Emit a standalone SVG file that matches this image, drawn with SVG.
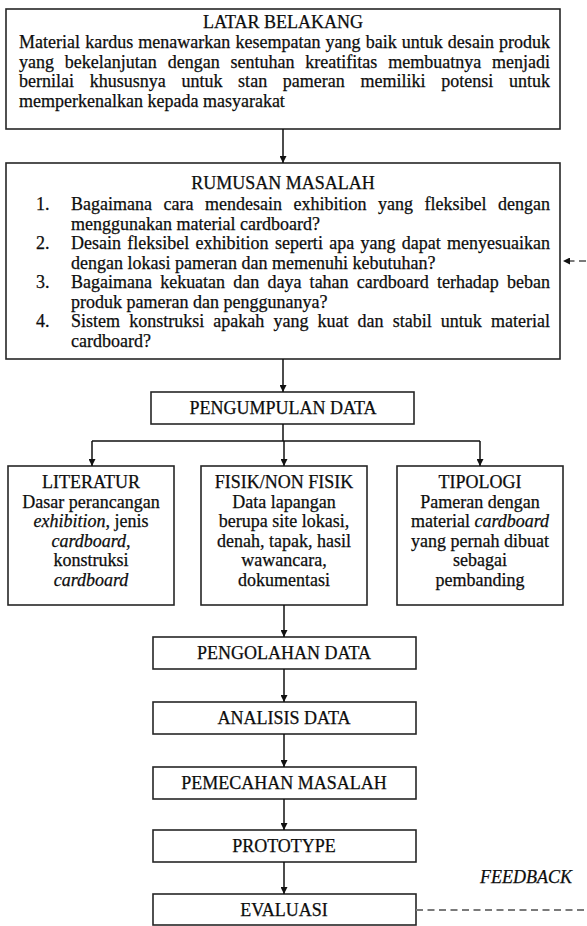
<svg xmlns="http://www.w3.org/2000/svg" width="587" height="926" viewBox="0 0 587 926">
<defs>
<marker id="ah" viewBox="0 0 10 10" refX="10" refY="5" markerWidth="7" markerHeight="7" markerUnits="userSpaceOnUse" orient="auto"><path d="M0,0 L10,5 L0,10 z" fill="#111"/></marker>
</defs>
<style>
text{font-family:"Liberation Serif","Times New Roman",serif;font-size:18px;fill:#0d0d0d;stroke:#0d0d0d;stroke-width:0.25}
.c{text-anchor:middle}
.i{font-style:italic}
.box{fill:#fff;stroke:#262626;stroke-width:1.6}
.ln{fill:none;stroke:#111;stroke-width:1.5}
.dash{fill:none;stroke:#7a7a7a;stroke-width:2;stroke-dasharray:7 4.5}
</style>
<rect width="587" height="926" fill="#fff"/>

<g id="latar-belakang">
<rect class="box" x="6" y="9" width="554" height="120"/>
<text class="c" x="283" y="28">LATAR BELAKANG</text>
<text x="19" y="48" word-spacing="0.6" textLength="531" lengthAdjust="spacing">Material kardus menawarkan kesempatan yang baik untuk desain produk</text>
<text x="19" y="67.5" word-spacing="6.3" textLength="531" lengthAdjust="spacing">yang bekelanjutan dengan sentuhan kreatifitas membuatnya menjadi</text>
<text x="19" y="87" word-spacing="11.2" textLength="531" lengthAdjust="spacing">bernilai khususnya untuk stan pameran memiliki potensi untuk</text>
<text x="19" y="106.5">memperkenalkan kepada masyarakat</text>
</g>

<g id="rumusan-masalah">
<rect class="box" x="6" y="163" width="554" height="196"/>
<text class="c" x="283" y="189">RUMUSAN MASALAH</text>
<text x="36" y="210">1.</text>
<text x="71" y="210" word-spacing="7" textLength="479" lengthAdjust="spacing">Bagaimana cara mendesain exhibition yang fleksibel dengan</text>
<text x="71" y="229.5">menggunakan material cardboard?</text>
<text x="36" y="249">2.</text>
<text x="71" y="249" word-spacing="1.8" textLength="479" lengthAdjust="spacing">Desain fleksibel exhibition seperti apa yang dapat menyesuaikan</text>
<text x="71" y="268.5">dengan lokasi pameran dan memenuhi kebutuhan?</text>
<text x="36" y="288">3.</text>
<text x="71" y="288" word-spacing="3.7" textLength="479" lengthAdjust="spacing">Bagaimana kekuatan dan daya tahan cardboard terhadap beban</text>
<text x="71" y="307.5">produk pameran dan penggunanya?</text>
<text x="36" y="327">4.</text>
<text x="71" y="327" word-spacing="4.6" textLength="479" lengthAdjust="spacing">Sistem konstruksi apakah yang kuat dan stabil untuk material</text>
<text x="71" y="346.5">cardboard?</text>
</g>

<g id="pengumpulan-data">
<rect class="box" x="151" y="392" width="263" height="32"/>
<text class="c" x="283" y="414">PENGUMPULAN DATA</text>
</g>

<g id="literatur">
<rect class="box" x="8" y="466" width="166" height="139"/>
<text class="c" x="91" y="488">LITERATUR</text>
<text class="c" x="91" y="507.5">Dasar perancangan</text>
<text class="c" x="91" y="527"><tspan class="i">exhibition</tspan>, jenis</text>
<text class="c" x="91" y="546.5"><tspan class="i">cardboard</tspan>,</text>
<text class="c" x="91" y="566">konstruksi</text>
<text class="c i" x="91" y="585.5">cardboard</text>
</g>

<g id="fisik-non-fisik">
<rect class="box" x="201" y="466" width="166" height="139"/>
<text class="c" x="284" y="488">FISIK/NON FISIK</text>
<text class="c" x="284" y="507.5">Data lapangan</text>
<text class="c" x="284" y="527">berupa site lokasi,</text>
<text class="c" x="284" y="546.5">denah, tapak, hasil</text>
<text class="c" x="284" y="566">wawancara,</text>
<text class="c" x="284" y="585.5">dokumentasi</text>
</g>

<g id="tipologi">
<rect class="box" x="397" y="466" width="166" height="139"/>
<text class="c" x="480" y="488">TIPOLOGI</text>
<text class="c" x="480" y="507.5">Pameran dengan</text>
<text class="c" x="480" y="527">material <tspan class="i">cardboard</tspan></text>
<text class="c" x="480" y="546.5">yang pernah dibuat</text>
<text class="c" x="480" y="566">sebagai</text>
<text class="c" x="480" y="585.5">pembanding</text>
</g>

<g id="pengolahan-data">
<rect class="box" x="153" y="637" width="263" height="32"/>
<text class="c" x="284" y="659">PENGOLAHAN DATA</text>
</g>

<g id="analisis-data">
<rect class="box" x="153" y="702" width="263" height="32"/>
<text class="c" x="284" y="724">ANALISIS DATA</text>
</g>

<g id="pemecahan-masalah">
<rect class="box" x="153" y="767" width="263" height="32"/>
<text class="c" x="284" y="789">PEMECAHAN MASALAH</text>
</g>

<g id="prototype">
<rect class="box" x="153" y="830" width="263" height="32"/>
<text class="c" x="284" y="852">PROTOTYPE</text>
</g>

<g id="evaluasi">
<rect class="box" x="153" y="894" width="263" height="31"/>
<text class="c" x="284" y="916">EVALUASI</text>
</g>

<g id="connectors">
<path class="ln" d="M283,129 V163" marker-end="url(#ah)"/>
<path class="ln" d="M283,359 V392" marker-end="url(#ah)"/>
<path class="ln" d="M283,424 V441 M92,441 H480"/>
<path class="ln" d="M92,441 V466" marker-end="url(#ah)"/>
<path class="ln" d="M284,441 V466" marker-end="url(#ah)"/>
<path class="ln" d="M480,441 V466" marker-end="url(#ah)"/>
<path class="ln" d="M284,605 V637" marker-end="url(#ah)"/>
<path class="ln" d="M284,669 V702" marker-end="url(#ah)"/>
<path class="ln" d="M284,734 V767" marker-end="url(#ah)"/>
<path class="ln" d="M284,799 V830" marker-end="url(#ah)"/>
<path class="ln" d="M284,862 V894" marker-end="url(#ah)"/>
<path class="dash" d="M416,910 H587"/>
<path class="dash" d="M586,261 H563" stroke-dasharray="10 4" marker-end="url(#ah)"/>
<text class="i" x="480" y="883">FEEDBACK</text>
</g>
</svg>
